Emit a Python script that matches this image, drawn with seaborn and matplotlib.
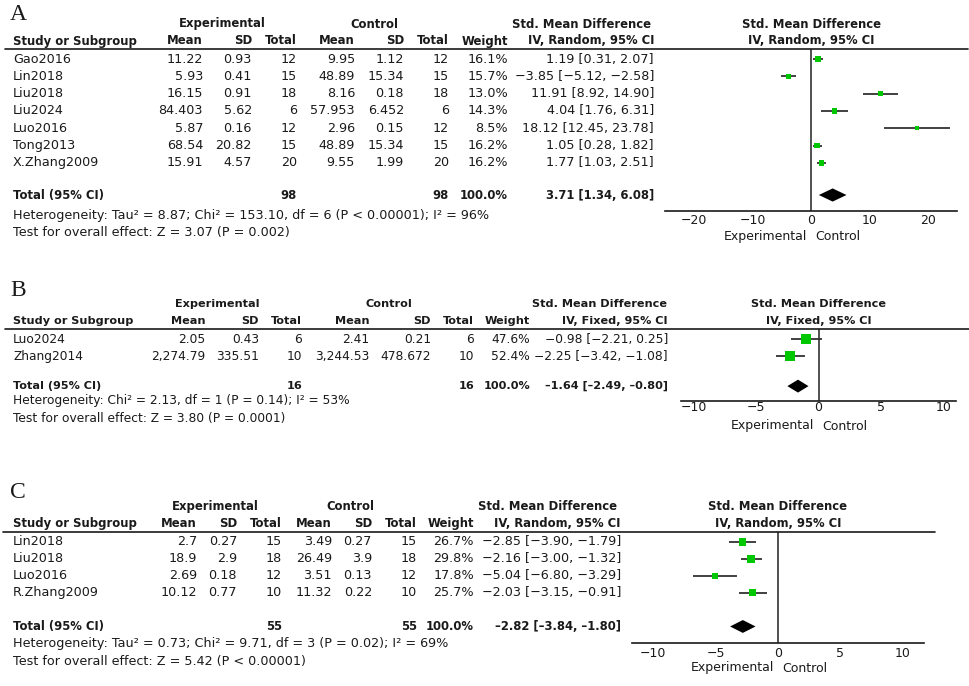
import matplotlib
matplotlib.use('Agg')
import matplotlib.pyplot as plt
from matplotlib.lines import Line2D
import pandas as pd
import seaborn as sns

# ---- Panel A data ----
a_study = ['Gao2016', 'Lin2018', 'Liu2018', 'Liu2024', 'Luo2016', 'Tong2013', 'X.Zhang2009']
a_exp_mean = ['11.22', '5.93', '16.15', '84.403', '5.87', '68.54', '15.91']
a_exp_sd = ['0.93', '0.41', '0.91', '5.62', '0.16', '20.82', '4.57']
a_exp_n = [12, 15, 18, 6, 12, 15, 20]
a_ctl_mean = ['9.95', '48.89', '8.16', '57.953', '2.96', '48.89', '9.55']
a_ctl_sd = ['1.12', '15.34', '0.18', '6.452', '0.15', '15.34', '1.99']
a_ctl_n = [12, 15, 18, 6, 12, 15, 20]
a_weight = [16.1, 15.7, 13.0, 14.3, 8.5, 16.2, 16.2]
a_smd = [1.19, -3.85, 11.91, 4.04, 18.12, 1.05, 1.77]
a_lo = [0.31, -5.12, 8.92, 1.76, 12.45, 0.28, 1.03]
a_hi = [2.07, -2.58, 14.90, 6.31, 23.78, 1.82, 2.51]
a_total = (98, 98, 3.71, 1.34, 6.08)
a_het = 'Heterogeneity: Tau² = 8.87; Chi² = 153.10, df = 6 (P < 0.00001); I² = 96%'
a_test = 'Test for overall effect: Z = 3.07 (P = 0.002)'
a_ticks = [-20, -10, 0, 10, 20]

# ---- Panel B data ----
b_study = ['Luo2024', 'Zhang2014']
b_exp_mean = ['2.05', '2,274.79']
b_exp_sd = ['0.43', '335.51']
b_exp_n = [6, 10]
b_ctl_mean = ['2.41', '3,244.53']
b_ctl_sd = ['0.21', '478.672']
b_ctl_n = [6, 10]
b_weight = [47.6, 52.4]
b_smd = [-0.98, -2.25]
b_lo = [-2.21, -3.42]
b_hi = [0.25, -1.08]
b_total = (16, 16, -1.64, -2.49, -0.80)
b_het = 'Heterogeneity: Chi² = 2.13, df = 1 (P = 0.14); I² = 53%'
b_test = 'Test for overall effect: Z = 3.80 (P = 0.0001)'
b_ticks = [-10, -5, 0, 5, 10]

# ---- Panel C data ----
c_study = ['Lin2018', 'Liu2018', 'Luo2016', 'R.Zhang2009']
c_exp_mean = ['2.7', '18.9', '2.69', '10.12']
c_exp_sd = ['0.27', '2.9', '0.18', '0.77']
c_exp_n = [15, 18, 12, 10]
c_ctl_mean = ['3.49', '26.49', '3.51', '11.32']
c_ctl_sd = ['0.27', '3.9', '0.13', '0.22']
c_ctl_n = [15, 18, 12, 10]
c_weight = [26.7, 29.8, 17.8, 25.7]
c_smd = [-2.85, -2.16, -5.04, -2.03]
c_lo = [-3.90, -3.00, -6.80, -3.15]
c_hi = [-1.79, -1.32, -3.29, -0.91]
c_total = (55, 55, -2.82, -3.84, -1.80)
c_het = 'Heterogeneity: Tau² = 0.73; Chi² = 9.71, df = 3 (P = 0.02); I² = 69%'
c_test = 'Test for overall effect: Z = 5.42 (P < 0.00001)'
c_ticks = [-10, -5, 0, 5, 10]

W, H = 969, 686
GREEN = '#00c800'
INK = '#1a1a1a'
FS = 9

sns.set_style('white')
plt.rcParams['font.family'] = ['DejaVu Sans']

fig = plt.figure(figsize=(W / 100, H / 100), dpi=100)


def fx(x):
    return x / W


def fy(y):
    return 1 - y / H


def fmt(v, dash='\u2212'):
    return f'{v:.2f}'.replace('-', dash)


def ci_text(m, l, h, dash='\u2212'):
    return f'{fmt(m, dash)} [{fmt(l, dash)}, {fmt(h, dash)}]'


def draw_panel(letter, study, em, esd, en, cm, csd, cn, weight, smd, lo, hi,
               total, het, test, model, ticks, lay):
    fs, fsb = lay['fs'], lay['fs'] * 0.92

    def txt(x, y, s, ha='right', bold=False):
        fig.text(fx(x), fy(y), s, ha=ha, va='center', fontsize=fsb if bold else fs,
                 fontweight='bold' if bold else 'normal', color=INK)

    n = len(study)
    line_y, sp, off = lay['line_y'], lay['sp'], lay['off']
    row_px = [line_y + sp * (i + off) for i in range(n)]
    tot_i = n + lay['tot']
    tot_px = line_y + sp * (tot_i + off)
    cols = lay['cols']

    # letter and headers
    fig.text(fx(lay['letter_x']), fy(lay['letter_y']), letter, ha='left', va='center',
             fontsize=17, family='Liberation Serif', color=INK)
    h1, h2 = line_y - 25, line_y - 8
    txt(lay['exp_c'], h1, 'Experimental', ha='center', bold=True)
    txt(lay['ctl_c'], h1, 'Control', ha='center', bold=True)
    txt(lay['smd_c'], h1, 'Std. Mean Difference', ha='center', bold=True)
    txt(lay['name_x'], h2, 'Study or Subgroup', ha='left', bold=True)
    for x, s in zip(cols, ['Mean', 'SD', 'Total', 'Mean', 'SD', 'Total', 'Weight',
                           f'IV, {model}, 95% CI']):
        txt(x, h2, s, bold=True)
    fig.add_artist(Line2D([fx(lay['line_x0']), fx(lay['line_x1'])], [fy(line_y), fy(line_y)],
                          color=INK, lw=1.2))

    # study rows
    for i in range(n):
        y = row_px[i]
        txt(lay['name_x'], y, study[i], ha='left')
        vals = [em[i], esd[i], str(en[i]), cm[i], csd[i], str(cn[i]),
                f'{weight[i]:.1f}%', ci_text(smd[i], lo[i], hi[i])]
        for x, s in zip(cols, vals):
            txt(x, y, s)

    # total row
    txt(lay['name_x'], tot_px, 'Total (95% CI)', ha='left', bold=True)
    txt(cols[2], tot_px, str(total[0]), bold=True)
    txt(cols[5], tot_px, str(total[1]), bold=True)
    txt(cols[6], tot_px, '100.0%', bold=True)
    txt(cols[7], tot_px, ci_text(*total[2:], dash='\u2013'), bold=True)
    txt(lay['name_x'], tot_px + lay['het_dy'], het, ha='left')
    txt(lay['name_x'], tot_px + lay['het_dy'] + 17.5, test, ha='left')

    # forest plot
    axis_y = lay['axis_y']
    x0, x1 = lay['ax_x']
    ax = fig.add_axes([fx(x0), fy(axis_y), (x1 - x0) / W, (axis_y - line_y) / H])
    ax.set_xlim(lay['xlim'])
    ax.set_ylim((axis_y - line_y) / sp - off, -off)
    df = pd.DataFrame({'smd': smd, 'lo': lo, 'hi': hi, 'weight': weight,
                       'row': list(range(n))})
    ax.hlines(df['row'], df['lo'], df['hi'], color='#333333', lw=1.3, zorder=2)
    wmin, wmax = min(weight), max(weight)
    sns.scatterplot(data=df, x='smd', y='row', size='weight', sizes=(wmin, wmax),
                    size_norm=(wmin, wmax), marker='s', color=GREEN, edgecolor='none',
                    legend=False, ax=ax, zorder=3)
    m, l, h = total[2:]
    hh = 0.38
    ax.fill([l, m, h, m], [tot_i, tot_i - hh, tot_i, tot_i + hh], color='black', lw=0, zorder=3)
    ax.axvline(0, color='#333333', lw=1.2, zorder=1)
    for s in ['left', 'top', 'right']:
        ax.spines[s].set_visible(False)
    ax.spines['bottom'].set_color(INK)
    ax.spines['bottom'].set_linewidth(1.2)
    ax.set_xticks(ticks)
    ax.set_yticks([])
    ax.set_xlabel('')
    ax.set_ylabel('')
    ax.tick_params(axis='x', direction='inout', length=8, width=1, pad=lay['pad'],
                   labelsize=FS, colors=INK)
    ax.patch.set_alpha(0)

    for yy, s in [(h1, 'Std. Mean Difference'), (h2, f'IV, {model}, 95% CI')]:
        ax.annotate(s, xy=(0, fy(yy)), xycoords=('data', 'figure fraction'),
                    ha='center', va='center', fontsize=fsb, fontweight='bold', color=INK,
                    annotation_clip=False)
    yl = fy(lay['ec_y'])
    ax.annotate('Experimental', xy=(0, yl), xycoords=('data', 'figure fraction'),
                xytext=(-3, 0), textcoords='offset points', ha='right', va='center',
                fontsize=FS, color=INK, annotation_clip=False)
    ax.annotate('Control', xy=(0, yl), xycoords=('data', 'figure fraction'),
                xytext=(3, 0), textcoords='offset points', ha='left', va='center',
                fontsize=FS, color=INK, annotation_clip=False)


draw_panel('A', a_study, a_exp_mean, a_exp_sd, a_exp_n, a_ctl_mean, a_ctl_sd, a_ctl_n,
           a_weight, a_smd, a_lo, a_hi, a_total, a_het, a_test, 'Random', a_ticks,
           dict(letter_x=10, letter_y=14, line_y=49, sp=17.3, off=0.58, tot=0.86, het_dy=20,
                name_x=13, cols=[203, 252, 297, 355, 404, 449, 508, 654],
                exp_c=222, ctl_c=374, smd_c=581, line_x0=5, line_x1=968,
                axis_y=211, ax_x=(665, 957), xlim=(-25, 25), ec_y=236, pad=-2, fs=9.15))

draw_panel('B', b_study, b_exp_mean, b_exp_sd, b_exp_n, b_ctl_mean, b_ctl_sd, b_ctl_n,
           b_weight, b_smd, b_lo, b_hi, b_total, b_het, b_test, 'Fixed', b_ticks,
           dict(letter_x=10, letter_y=291, line_y=329, sp=17, off=0.6, tot=0.76, het_dy=14.5,
                name_x=13, cols=[205, 259, 302, 369, 431, 474, 530, 668],
                exp_c=217, ctl_c=389, smd_c=599, line_x0=5, line_x1=969,
                axis_y=401, ax_x=(681, 956), xlim=(-11, 11), ec_y=426, pad=-4, fs=8.8))

draw_panel('C', c_study, c_exp_mean, c_exp_sd, c_exp_n, c_ctl_mean, c_ctl_sd, c_ctl_n,
           c_weight, c_smd, c_lo, c_hi, c_total, c_het, c_test, 'Random', c_ticks,
           dict(letter_x=10, letter_y=492, line_y=531.5, sp=16.9, off=0.62, tot=1.0, het_dy=17.5,
                name_x=13, cols=[197, 237, 282, 332, 372, 417, 474, 621],
                exp_c=215, ctl_c=350, smd_c=548, line_x0=3, line_x1=935,
                axis_y=642.7, ax_x=(632, 924), xlim=(-11.7, 11.7), ec_y=668, pad=-1, fs=9.15))

fig.savefig('out.png', dpi=100, facecolor='white')
